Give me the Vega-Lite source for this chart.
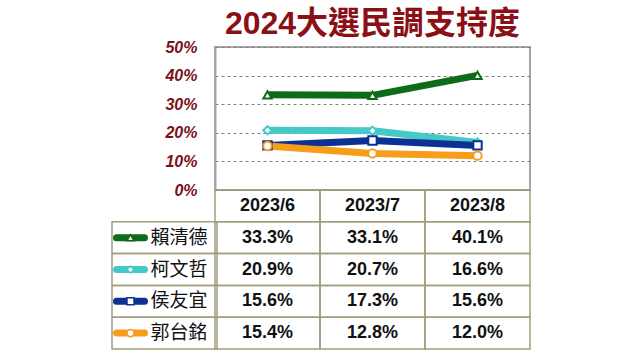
{
  "$schema": "https://vega.github.io/schema/vega-lite/v6.json",
  "background": "white",
  "padding": {"left": 102, "top": 7, "right": 0, "bottom": 0},
  "spacing": 0,
  "bounds": "flush",
  "config": {"view": {"stroke": null}, "font": "Liberation Sans"},
  "datasets": {
    "polls": [
      {"name": "賴清德", "month": "2023/6", "value": 0.333},
      {"name": "賴清德", "month": "2023/7", "value": 0.331},
      {"name": "賴清德", "month": "2023/8", "value": 0.401},
      {"name": "柯文哲", "month": "2023/6", "value": 0.209},
      {"name": "柯文哲", "month": "2023/7", "value": 0.207},
      {"name": "柯文哲", "month": "2023/8", "value": 0.166},
      {"name": "侯友宜", "month": "2023/6", "value": 0.156},
      {"name": "侯友宜", "month": "2023/7", "value": 0.173},
      {"name": "侯友宜", "month": "2023/8", "value": 0.156},
      {"name": "郭台銘", "month": "2023/6", "value": 0.154},
      {"name": "郭台銘", "month": "2023/7", "value": 0.128},
      {"name": "郭台銘", "month": "2023/8", "value": 0.120}
    ],
    "months": [{"month": "2023/6"}, {"month": "2023/7"}, {"month": "2023/8"}],
    "candidates": [{"name": "賴清德"}, {"name": "柯文哲"}, {"name": "侯友宜"}, {"name": "郭台銘"}]
  },
  "resolve": {"scale": {"x": "independent", "y": "independent", "color": "shared", "shape": "shared"}},
  "vconcat": [
    {
      "width": 315,
      "height": 143,
      "view": {"stroke": "#a6a6a6", "strokeWidth": 2},
      "title": {
        "text": "2024大選民調支持度",
        "frame": "group",
        "anchor": "middle",
        "fontSize": 32,
        "fontWeight": "bold",
        "color": "#8a1016",
        "font": "Liberation Sans, Noto Sans CJK TC",
        "offset": -2
      },
      "data": {"name": "polls"},
      "encoding": {
        "x": {"field": "month", "type": "ordinal", "axis": null,
              "scale": {"domain": ["2023/6", "2023/7", "2023/8"]}},
        "y": {"field": "value", "type": "quantitative",
              "scale": {"domain": [0, 0.5], "nice": false},
              "axis": {"values": [0, 0.1, 0.2, 0.3, 0.4, 0.5], "format": ".0%", "title": null,
                       "ticks": false, "domainColor": "#a6a6a6", "domainWidth": 2,
                       "grid": true, "gridDash": [3, 3], "gridColor": "#808080",
                       "labelColor": "#7b1020", "labelFont": "Liberation Sans", "labelFontSize": 16,
                       "labelFontStyle": "italic", "labelFontWeight": "bold", "labelPadding": 18}},
        "color": {"field": "name", "type": "nominal", "legend": null,
                  "scale": {"domain": ["賴清德", "柯文哲", "侯友宜", "郭台銘"],
                            "range": ["#0e6b1a", "#45c8c8", "#0b3192", "#f69d1c"]}},
        "shape": {"field": "name", "type": "nominal", "legend": null,
                  "scale": {"domain": ["賴清德", "柯文哲", "侯友宜", "郭台銘"],
                            "range": ["triangle-up", "diamond", "square", "circle"]}}
      },
      "layer": [
        {"mark": {"type": "line", "strokeWidth": 7}},
        {"mark": {"type": "point", "filled": false, "fill": "white", "size": 70, "strokeWidth": 2, "opacity": 1}}
      ]
    },
    {
      "width": 315,
      "height": 159,
      "layer": [
        {
          "data": {"name": "months"},
          "mark": {"type": "rect", "filled": false, "stroke": "#a39d7e", "strokeWidth": 1.5},
          "encoding": {
            "x": {"field": "month", "type": "nominal", "axis": null,
                  "scale": {"type": "band", "domain": ["2023/6", "2023/7", "2023/8"], "paddingInner": 0, "paddingOuter": 0}},
            "y": {"datum": "header", "type": "nominal", "axis": null,
                  "scale": {"type": "band", "domain": ["header", "賴清德", "柯文哲", "侯友宜", "郭台銘"], "paddingInner": 0, "paddingOuter": 0}}
          }
        },
        {
          "data": {"name": "months"},
          "mark": {"type": "text", "font": "Liberation Sans", "fontSize": 18, "fontWeight": "bold", "color": "#111111"},
          "encoding": {
            "x": {"field": "month", "type": "nominal"},
            "y": {"datum": "header", "type": "nominal"},
            "text": {"field": "month"}
          }
        },
        {
          "data": {"name": "candidates"},
          "mark": {"type": "rect", "filled": false, "stroke": "#a39d7e", "strokeWidth": 1.5, "xOffset": -103},
          "encoding": {
            "x": {"datum": "2023/6", "type": "nominal"},
            "y": {"field": "name", "type": "nominal"}
          }
        },
        {
          "data": {"name": "polls"},
          "mark": {"type": "rect", "filled": false, "stroke": "#a39d7e", "strokeWidth": 1.5},
          "encoding": {
            "x": {"field": "month", "type": "nominal"},
            "y": {"field": "name", "type": "nominal"}
          }
        },
        {
          "data": {"name": "candidates"},
          "mark": {"type": "point", "shape": "stroke", "size": 784, "strokeWidth": 7, "strokeCap": "round", "xOffset": -137, "opacity": 1},
          "encoding": {
            "x": {"datum": "2023/6", "type": "nominal"},
            "y": {"field": "name", "type": "nominal"},
            "color": {"field": "name", "type": "nominal", "legend": null}
          }
        },
        {
          "data": {"name": "candidates"},
          "mark": {"type": "point", "filled": false, "fill": "white", "size": 50, "strokeWidth": 1.5, "xOffset": -137, "opacity": 1},
          "encoding": {
            "x": {"datum": "2023/6", "type": "nominal"},
            "y": {"field": "name", "type": "nominal"},
            "color": {"field": "name", "type": "nominal", "legend": null},
            "shape": {"field": "name", "type": "nominal", "legend": null}
          }
        },
        {
          "data": {"name": "candidates"},
          "mark": {"type": "text", "align": "left", "xOffset": -117, "font": "Noto Sans CJK TC", "fontSize": 19, "color": "#111111"},
          "encoding": {
            "x": {"datum": "2023/6", "type": "nominal"},
            "y": {"field": "name", "type": "nominal"},
            "text": {"field": "name"}
          }
        },
        {
          "data": {"name": "polls"},
          "mark": {"type": "text", "font": "Liberation Sans", "fontSize": 18, "fontWeight": "bold", "color": "#111111"},
          "encoding": {
            "x": {"field": "month", "type": "nominal"},
            "y": {"field": "name", "type": "nominal"},
            "text": {"field": "value", "format": ".1%"}
          }
        }
      ]
    }
  ]
}
